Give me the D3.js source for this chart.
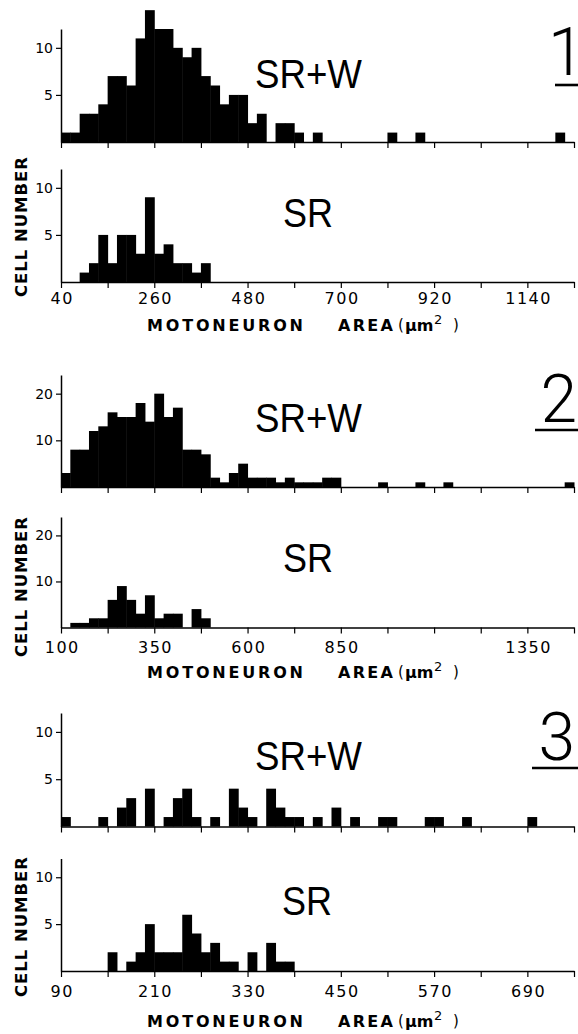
<!DOCTYPE html>
<html><head><meta charset="utf-8">
<script src="https://cdn.jsdelivr.net/npm/d3@7"></script>
<style>body{margin:0;background:#fff}svg{display:block}</style>
</head><body>
<svg id="c" width="578" height="1034"></svg>
<script>
// ---------- DATA ----------
// Figure 1: bins of 22 µm² starting at 40
const p1BinStart = 40, p1BinWidth = 22;
const p1SRW = [1,1,3,3,4,7,7,6,11,14, 12,12,10,9,10,7,6,4,5,5, 2,3,0,2,2,1,0,1,0,0, 0,0,0,0,0,1,0,0,1,0, 0,0,0,0,0,0,0,0,0,0, 0,0,0,1,0];
const p1SR  = [0,0,1,2,5,2,5,5,3,9, 3,4,2,2,1,2,0,0,0,0, 0,0,0,0,0,0,0,0,0,0, 0,0,0,0,0,0,0,0,0,0, 0,0,0,0,0,0,0,0,0,0, 0,0,0,0,0];
const p1Ticks = [40,150,260,370,480,590,700,810,920,1030,1140,1250];
const p1Labels = [40,260,480,700,920,1140];
const p1YTicks = [5,10];

// Figure 2: bins of 25 µm² starting at 100
const p2BinStart = 100, p2BinWidth = 25;
const p2SRW = [3,8,8,12,13,16,15,15,18,14, 20,15,17,8,8,7,2,1,3,5, 2,2,2,1,2,1,1,1,2,2, 0,0,0,0,1,0,0,0,1,0, 0,1,0,0,0,0,0,0,0,0, 0,0,0,0,1];
const p2SR  = [0,1,1,2,2,6,9,6,3,7, 2,3,3,0,4,2,0,0,0,0, 0,0,0,0,0,0,0,0,0,0, 0,0,0,0,0,0,0,0,0,0, 0,0,0,0,0,0,0,0,0,0, 0,0,0,0,0];
const p2Ticks = [100,225,350,475,600,725,850,975,1100,1225,1350,1475];
const p2Labels = [100,350,600,850,1350];
const p2YTicks = [10,20];

// Figure 3: bins of 12 µm² starting at 90
const p3BinStart = 90, p3BinWidth = 12;
const p3SRW = [1,0,0,0,1,0,2,3,0,4, 0,1,3,4,1,0,1,0,4,2, 1,0,4,2,1,1,0,1,0,2, 0,1,0,0,1,1,0,0,0,1, 1,0,0,1,0,0,0,0,0,0, 1,0,0,0,0];
const p3SR  = [0,0,0,0,0,2,0,1,2,5, 2,2,2,6,4,2,3,1,1,0, 2,0,3,1,1,0,0,0,0,0, 0,0,0,0,0,0,0,0,0,0, 0,0,0,0,0,0,0,0,0,0, 0,0,0,0,0];
const p3Ticks = [90,150,210,270,330,390,450,510,570,630,690,750];
const p3Labels = [90,210,330,450,570,690];
const p3YTicks = [5,10];

const figNumbers = ["1","2","3"];
const seriesNames = ["SR+W","SR"];

// ---------- LAYOUT ----------
const X0 = 61, X1 = 574;
const svg = d3.select("#c");
const NUMFONT = "'DejaVu Sans', sans-serif";
const BIGFONT = "'Liberation Sans', Arial, sans-serif";
const FIGFONT = "Roboto, 'Liberation Sans', sans-serif";

function drawHist(counts, start, width, top, base, yMax, yTicks, allTicks, labels, labelBaseline) {
  const n = counts.length;
  const x = d3.scaleLinear().domain([start, start + n * width]).range([X0, X1]);
  const y = d3.scaleLinear().domain([0, yMax]).range([base, top]);
  const g = svg.append("g");
  const bins = counts.map((c, i) => ({c, i})).filter(d => d.c > 0);
  g.selectAll("rect").data(bins).join("rect")
    .attr("x", d => x(start + d.i * width))
    .attr("width", d => x(start + (d.i + 1) * width) - x(start + d.i * width) + 0.5)
    .attr("y", d => y(d.c))
    .attr("height", d => base - y(d.c))
    .attr("fill", "#000");

  const xa = d3.axisBottom(x).tickValues(allTicks).tickSize(6).tickSizeOuter(0)
    .tickFormat(v => labels.includes(v) ? String(v) : "");
  const gx = g.append("g").attr("transform", `translate(0,${base})`).call(xa);
  gx.select(".domain").attr("stroke", "#000").attr("stroke-width", 1.7);
  gx.selectAll(".tick line").attr("stroke", "#000").attr("stroke-width", 1.2);
  gx.attr("font-family", NUMFONT).attr("font-size", 16);
  gx.selectAll("text").attr("y", labelBaseline - base).attr("dy", 0)
    .attr("fill", "#000").attr("letter-spacing", 1.5).attr("dx", 0.75);

  const ya = d3.axisLeft(y).tickValues(yTicks).tickSize(5).tickSizeOuter(0).tickPadding(3);
  const gy = g.append("g").attr("transform", `translate(${X0},0)`).call(ya);
  gy.select(".domain").attr("stroke", "#000").attr("stroke-width", 1.5);
  gy.selectAll(".tick line").attr("stroke", "#000").attr("stroke-width", 1.2);
  gy.attr("font-family", NUMFONT).attr("font-size", 14);
  gy.selectAll("text").attr("fill", "#000");
  return g;
}

function bigLabel(txt, x, yb, len) {
  svg.append("text").attr("x", x).attr("y", yb).text(txt)
    .attr("font-family", BIGFONT).attr("font-size", 41)
    .attr("textLength", len).attr("lengthAdjust", "spacingAndGlyphs")
    .attr("fill", "#000");
}

function figNum(txt, xStart, yb, ulX0, ulY, ls) {
  svg.append("text").attr("x", xStart).attr("y", yb).text(txt)
    .attr("letter-spacing", ls)
    .attr("font-family", FIGFONT).attr("font-weight", 300).attr("font-size", 66).attr("fill", "#000");
  svg.append("line").attr("x1", ulX0).attr("x2", 578).attr("y1", ulY).attr("y2", ulY)
    .attr("stroke", "#000").attr("stroke-width", 2.6);
}

function cellNumber(yEnd) {
  svg.append("text").attr("transform", `translate(27,${yEnd}) rotate(-90)`)
    .attr("text-anchor", "end").text("CELL NUMBER")
    .attr("font-family", NUMFONT).attr("font-weight", "bold").attr("font-size", 16.5)
    .attr("textLength", 140).attr("lengthAdjust", "spacing").attr("fill", "#000");
}

function areaTitle(yb) {
  svg.append("text").attr("x", 147).attr("y", yb).text("MOTONEURON")
    .attr("font-family", NUMFONT).attr("font-weight", "bold").attr("font-size", 16)
    .attr("textLength", 156).attr("lengthAdjust", "spacing").attr("fill", "#000");
  svg.append("text").attr("x", 338).attr("y", yb).text("AREA")
    .attr("font-family", NUMFONT).attr("font-weight", "bold").attr("font-size", 16)
    .attr("textLength", 55).attr("lengthAdjust", "spacing").attr("fill", "#000");
  const t = (s, x, y, size, w) => svg.append("text").attr("x", x).attr("y", y).text(s)
    .attr("font-family", NUMFONT).attr("font-size", size).attr("font-weight", w).attr("fill", "#000");
  t("(", 398, yb - 1, 15, "normal");
  t("µm", 405, yb, 16, "bold");
  t("2", 434, yb - 7, 13, "normal");
  t(")", 453, yb - 1, 15, "normal");
}

// Figure 1
drawHist(p1SRW, p1BinStart, p1BinWidth, 29, 142, 12, p1YTicks, p1Ticks, [], 0);
drawHist(p1SR,  p1BinStart, p1BinWidth, 169, 282, 12, p1YTicks, p1Ticks, p1Labels, 304);
bigLabel(seriesNames[0], 255, 88, 107);
bigLabel(seriesNames[1], 283, 227, 50);
figNum(figNumbers[0], 548, 75, 555, 85, -12);
cellNumber(157);
areaTitle(331);

// Figure 2
drawHist(p2SRW, p2BinStart, p2BinWidth, 375, 487, 24, p2YTicks, p2Ticks, [], 0);
drawHist(p2SR,  p2BinStart, p2BinWidth, 517, 627.5, 24, p2YTicks, p2Ticks, p2Labels, 653);
bigLabel(seriesNames[0], 255, 432, 107);
bigLabel(seriesNames[1], 283, 572, 50);
figNum(figNumbers[1], 540.5, 422, 535, 430, 0);
cellNumber(517);
areaTitle(678);

// Figure 3
drawHist(p3SRW, p3BinStart, p3BinWidth, 713, 826.5, 12, p3YTicks, p3Ticks, [], 0);
drawHist(p3SR,  p3BinStart, p3BinWidth, 858.5, 971, 12, p3YTicks, p3Ticks, p3Labels, 997);
bigLabel(seriesNames[0], 255, 770, 107);
bigLabel(seriesNames[1], 282, 915, 50);
figNum(figNumbers[2], 538.5, 760, 532, 768, 0);
cellNumber(857);
areaTitle(1027);
</script>
</body></html>
